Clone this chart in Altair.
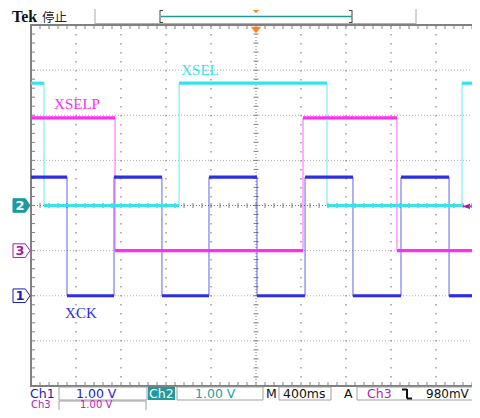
import altair as alt
import pandas as pd
import numpy as np

# ---------------- data (time in ms, 400 ms/div; amplitude in V, 1 V/div) ----------------
T0, T1 = -2000, 1920
CHANNELS = ["XCK", "XSELP", "XSEL"]
COLORS = ["#2e2ee8", "#ff2ef0", "#38e2ea"]
OFFSETS = [-2.0, -1.0, 0.0]           # ground marker positions (div)
XCK_EDGES = [-1680, -1262, -836, -418, 9, 436, 862, 1289, 1716]
XCK_LEVELS = [2.63, 0.0, 2.63, 0.0, 2.63, 0.0, 2.63, 0.0, 2.63, 0.0]
XSELP_EDGES = [-1253, 418, 1253]
XSELP_LEVELS = [2.94, 0.0, 2.94, 0.0]
XSEL_EDGES = [-1884, -684, 631, 1831]
XSEL_LEVELS = [2.71, 0.0, 2.71, 0.0, 2.71]
LABELS = ["XCK", "XSELP", "XSEL"]
LABEL_T = [-1556, -1591, -498]
LABEL_V = [-2.38, 2.25, 3.0]
MARKER_DIGITS = ["1", "3", "2"]
TRIG_LEVEL = 0.98  # V on Ch3
HEADER_TEXT = ["Tek", "停止"]
FOOTER_ROW1 = ["Ch1", "1.00 V", "Ch2", "1.00 V", "M", "400ms", "A", "Ch3", "980mV"]
FOOTER_ROW2 = ["Ch3", "1.00 V"]

W, H = 441, 361
xs = alt.Scale(domain=[T0, T1], nice=False, zero=False)
ys = alt.Scale(domain=[-4, 4], nice=False, zero=False)
cs = alt.Scale(domain=CHANNELS, range=COLORS)

hrows, vrows = [], []
for name, edges, levels, off in [
    ("XCK", XCK_EDGES, XCK_LEVELS, OFFSETS[0]),
    ("XSELP", XSELP_EDGES, XSELP_LEVELS, OFFSETS[1]),
    ("XSEL", XSEL_EDGES, XSEL_LEVELS, OFFSETS[2]),
]:
    b = [T0] + edges + [T1]
    for i, lv in enumerate(levels):
        hrows.append(dict(ch=name, t0=b[i], t1=b[i + 1], y=lv + off))
    for i, e in enumerate(edges):
        vrows.append(dict(ch=name, t=e, ya=levels[i] + off, yb=levels[i + 1] + off))
hdf = pd.DataFrame(hrows)
vdf = pd.DataFrame(vrows)

one = pd.DataFrame({"k": [0]})
OX, OY = 31, 25  # plot origin in page pixels


def prule(x1, y1, x2, y2, color, w=1.0, dash=None):
    kw = dict(color=color, strokeWidth=w)
    if dash:
        kw["strokeDash"] = dash
    return alt.Chart(one).mark_rule(**kw).encode(
        x=alt.value(x1 - OX), y=alt.value(y1 - OY), x2=alt.value(x2 - OX), y2=alt.value(y2 - OY))


def ptext(s, x, y, color, size=13, font="DejaVu Sans", weight="normal", align="left"):
    return alt.Chart(one).mark_text(text=s, align=align, baseline="middle", font=font,
                                    fontSize=size, fontWeight=weight, color=color).encode(
        x=alt.value(x - OX), y=alt.value(y - OY))


def prect(x1, y1, x2, y2, fill, stroke=None, w=1.0):
    kw = dict(fill=fill)
    if stroke:
        kw.update(stroke=stroke, strokeWidth=w)
    return alt.Chart(one).mark_rect(**kw).encode(
        x=alt.value(x1 - OX), x2=alt.value(x2 - OX), y=alt.value(y1 - OY), y2=alt.value(y2 - OY))


layers = []
# ---- grid ----
gx = pd.DataFrame({"t": [-1600, -1200, -800, -400, 400, 800, 1200, 1600]})
gy = pd.DataFrame({"v": [-3, -2, -1, 1, 2, 3]})
layers.append(alt.Chart(gy).mark_rule(color="#b0b0b0", strokeWidth=1, strokeDash=[1, 2]).encode(
    y=alt.Y("v:Q", scale=ys, axis=None), x=alt.value(0), x2=alt.value(W)))
layers.append(alt.Chart(gx).mark_rule(color="#8a8a8a", strokeWidth=1.3, strokeDash=[1.5, 7.5]).encode(
    x=alt.X("t:Q", scale=xs, axis=None), y=alt.value(0), y2=alt.value(H)))
# center cross
layers.append(alt.Chart(pd.DataFrame({"t": [0]})).mark_rule(color="#777777", strokeWidth=1, strokeDash=[1, 2]).encode(
    x=alt.X("t:Q", scale=xs, axis=None), y=alt.value(0), y2=alt.value(H)))
layers.append(alt.Chart(pd.DataFrame({"v": [0]})).mark_rule(color="#777777", strokeWidth=1, strokeDash=[1, 2]).encode(
    y=alt.Y("v:Q", scale=ys, axis=None), x=alt.value(0), x2=alt.value(W)))
mtx = pd.DataFrame({"t": np.arange(T0, T1 + 1, 80)})
mty = pd.DataFrame({"v": np.round(np.arange(-4, 4.001, 0.2), 3)})
xc = W * (0 - T0) / (T1 - T0)
yc = H / 2
layers.append(alt.Chart(mtx).mark_rule(color="#808080", strokeWidth=1).encode(
    x=alt.X("t:Q", scale=xs, axis=None), y=alt.value(yc - 2.5), y2=alt.value(yc + 2.5)))
layers.append(alt.Chart(mty).mark_rule(color="#808080", strokeWidth=1).encode(
    y=alt.Y("v:Q", scale=ys, axis=None), x=alt.value(xc - 2.5), x2=alt.value(xc + 2.5)))
# border ticks
layers.append(alt.Chart(mtx).mark_rule(color="#808080", strokeWidth=1).encode(
    x=alt.X("t:Q", scale=xs, axis=None), y=alt.value(0), y2=alt.value(4)))
layers.append(alt.Chart(mtx).mark_rule(color="#808080", strokeWidth=1).encode(
    x=alt.X("t:Q", scale=xs, axis=None), y=alt.value(H - 4), y2=alt.value(H)))
layers.append(alt.Chart(mty).mark_rule(color="#808080", strokeWidth=1).encode(
    y=alt.Y("v:Q", scale=ys, axis=None), x=alt.value(0), x2=alt.value(4)))
# frame
layers.append(alt.Chart(one).mark_rect(fill=None, stroke="#808080", strokeWidth=2).encode(
    x=alt.value(0), x2=alt.value(W + 2), y=alt.value(0), y2=alt.value(H)))

# ---- traces ----
layers.append(alt.Chart(vdf).mark_rule(strokeWidth=1, opacity=0.75).encode(
    x=alt.X("t:Q", scale=xs, axis=None), y=alt.Y("ya:Q", scale=ys, axis=None), y2="yb:Q",
    color=alt.Color("ch:N", scale=cs, legend=None)))
layers.append(alt.Chart(hdf).mark_rule(strokeWidth=3.2).encode(
    x=alt.X("t0:Q", scale=xs, axis=None), x2="t1:Q", y=alt.Y("y:Q", scale=ys, axis=None),
    color=alt.Color("ch:N", scale=cs, legend=None)))

# ---- trace labels ----
ldf = pd.DataFrame({"ch": CHANNELS, "label": LABELS, "t": LABEL_T, "v": LABEL_V})
layers.append(alt.Chart(ldf).mark_text(font="Liberation Serif", fontSize=15, align="center", baseline="middle").encode(
    x=alt.X("t:Q", scale=xs, axis=None), y=alt.Y("v:Q", scale=ys, axis=None), text="label:N",
    color=alt.Color("ch:N", scale=cs, legend=None)))

# ---- channel ground markers ----
PENT = "M -1 -0.8 L 0.45 -0.8 L 1 0 L 0.45 0.8 L -1 0.8 Z"
mk_fill = ["#ffffff", "#ffffff", "#1f9a9a"]
mk_stroke = ["#1c1ca8", "#a81ca8", "#1f9a9a"]
mk_text = ["#1c1ca8", "#a81ca8", "#ffffff"]
for i in range(3):
    d = pd.DataFrame({"v": [OFFSETS[i]], "d": [MARKER_DIGITS[i]]})
    layers.append(alt.Chart(d).mark_point(shape=PENT, size=289, filled=True, fill=mk_fill[i],
                                          stroke=mk_stroke[i], strokeWidth=1, opacity=1).encode(
        x=alt.value(21.5 - OX), y=alt.Y("v:Q", scale=ys, axis=None)))
    layers.append(alt.Chart(d).mark_text(fontSize=13, font="DejaVu Sans", fontWeight="bold",
                                         color=mk_text[i], align="center", baseline="middle").encode(
        x=alt.value(20 - OX), y=alt.Y("v:Q", scale=ys, axis=None), text="d:N"))

# trigger level marker (right)
trig = pd.DataFrame({"v": [OFFSETS[1] + TRIG_LEVEL]})
layers.append(alt.Chart(trig).mark_point(shape="M 1 -0.65 L 1 0.65 L -1 0 Z", size=64, filled=True,
                                         color="#a020a0", opacity=1).encode(
    x=alt.value(466 - OX), y=alt.Y("v:Q", scale=ys, axis=None)))
layers.append(alt.Chart(trig).mark_rule(color="#c040c0", strokeWidth=2).encode(
    x=alt.value(469 - OX), x2=alt.value(473 - OX), y=alt.Y("v:Q", scale=ys, axis=None)))
# trigger position marker (top)
tpos = pd.DataFrame({"t": [0]})
layers.append(alt.Chart(tpos).mark_point(shape="M -1 -0.6 L 1 -0.6 L 0 0.6 Z", size=110, filled=True,
                                         color="#ff7f1a", opacity=1).encode(
    x=alt.X("t:Q", scale=xs, axis=None), y=alt.value(30 - OY)))
layers.append(alt.Chart(tpos).mark_point(shape="M -1 -0.5 L 1 -0.5 L 0 0.5 Z", size=40, filled=True,
                                         color="#ff7f1a", opacity=1).encode(
    x=alt.X("t:Q", scale=xs, axis=None), y=alt.value(11.5 - OY)))

# ---- header ----
layers.append(ptext(HEADER_TEXT[0], 12, 16.5, "#111111", size=16, font="Liberation Serif", weight="bold"))
layers.append(ptext(HEADER_TEXT[1], 42, 17.5, "#222222", size=12.5, font="Noto Sans CJK SC"))
layers.append(prule(95, 9, 95, 24, "#a8a8a8"))
layers.append(prule(416, 9, 416, 24, "#a8a8a8"))
layers.append(prule(95, 23.5, 416, 23.5, "#b0b0b0"))
layers.append(prule(160, 10, 160, 23, "#444444"))
layers.append(prule(160, 10.5, 163, 10.5, "#444444"))
layers.append(prule(160, 22.5, 163, 22.5, "#444444"))
layers.append(prule(352, 10, 352, 23, "#444444"))
layers.append(prule(349, 10.5, 352, 10.5, "#444444"))
layers.append(prule(349, 22.5, 352, 22.5, "#444444"))
layers.append(prule(161, 16.5, 352, 16.5, "#1f9a9a", w=1.5))

# ---- footer ----
r1, r2 = 393.5, 405
layers.append(prect(59, 387, 147, 400, "#ffffff", "#a0a0a0"))
layers.append(prect(148, 387, 175, 400, "#1f9a9a"))
layers.append(prect(177, 387, 263, 400, "#ffffff", "#a0a0a0"))
layers.append(prect(279, 387, 331, 400, "#ffffff", "#a0a0a0"))
layers.append(prect(357, 387, 474, 400, "#ffffff", "#a0a0a0"))
layers.append(prect(59, 401, 146, 412, "#ffffff", "#a0a0a0"))
f1 = FOOTER_ROW1
layers.append(ptext(f1[0], 30, r1, "#1c1ca8", size=12.5))
layers.append(ptext(f1[1], 76, r1, "#2323c8", size=12.5))
layers.append(ptext(f1[2], 149, r1, "#ffffff", size=12.5))
layers.append(ptext(f1[3], 195, r1, "#1fa0a0", size=12.5))
layers.append(ptext(f1[4], 266, r1, "#111111", size=12.5))
layers.append(ptext(f1[5], 283, r1, "#111111", size=12.5))
layers.append(ptext(f1[6], 344, r1, "#111111", size=12.5))
layers.append(ptext(f1[7], 367, r1, "#b01cb0", size=12.5))
layers.append(ptext(f1[8], 426, r1, "#111111", size=12))
layers.append(ptext(FOOTER_ROW2[0], 31, r2, "#b01cb0", size=10))
layers.append(ptext(FOOTER_ROW2[1], 80, r2, "#c020c0", size=10))
# falling-edge symbol
layers.append(prule(402, 389.5, 407, 389.5, "#111111", w=2))
layers.append(prule(407, 389, 407, 398.5, "#111111", w=2))
layers.append(prule(407, 398.5, 412, 398.5, "#111111", w=2))

chart = alt.layer(*layers).properties(
    width=W, height=H,
    autosize=alt.AutoSizeParams(type="none"),
    padding={"left": 23, "top": 17, "right": 0, "bottom": 24},
    background="#ffffff",
).configure_view(strokeWidth=0)

chart.save("out.html", embed_options={"renderer": "svg", "actions": False})
